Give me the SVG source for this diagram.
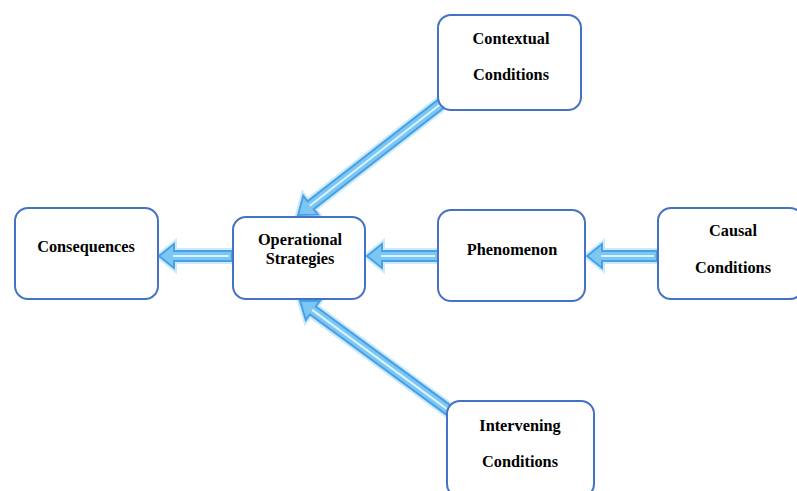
<svg xmlns="http://www.w3.org/2000/svg" width="797" height="491" viewBox="0 0 797 491">
<defs>
<style>
.box{fill:#fff;stroke:#4472C4;stroke-width:2}
.t{font-family:"Liberation Serif",serif;font-weight:bold;font-size:16.3px;fill:#000;text-anchor:middle}
.arr{fill:#7CC6F4;stroke:#4AA0E6;stroke-width:2;stroke-linejoin:miter}
.glow{fill:none;stroke:#A9DDFA;stroke-width:6;stroke-opacity:0.6}
.core{stroke:#D9F3FF;stroke-width:2;fill:none}
</style>
</defs>
<rect width="797" height="491" fill="#fff"/>
<g id="connectors">
<g transform="translate(159,256)">
<path class="glow" d="M0,0 L15,-12 L15,-5 L73,-5 L73,5 L15,5 L15,12 Z"/>
<path class="arr" d="M0,0 L15,-12 L15,-5 L73,-5 L73,5 L15,5 L15,12 Z"/>
<line class="core" x1="14" y1="0" x2="70" y2="0"/>
</g>
<g transform="translate(367,256)">
<path class="glow" d="M0,0 L15,-12 L15,-5 L71,-5 L71,5 L15,5 L15,12 Z"/>
<path class="arr" d="M0,0 L15,-12 L15,-5 L71,-5 L71,5 L15,5 L15,12 Z"/>
<line class="core" x1="14" y1="0" x2="68" y2="0"/>
</g>
<g transform="translate(587,256)">
<path class="glow" d="M0,0 L15,-12 L15,-5 L70,-5 L70,5 L15,5 L15,12 Z"/>
<path class="arr" d="M0,0 L15,-12 L15,-5 L70,-5 L70,5 L15,5 L15,12 Z"/>
<line class="core" x1="14" y1="0" x2="67" y2="0"/>
</g>
<g transform="translate(298,215) rotate(-37.9)">
<path class="glow" d="M0,0 L16,-12 L16,-5 L183,-5 L183,5 L16,5 L16,12 Z"/>
<path class="arr" d="M0,0 L16,-12 L16,-5 L183,-5 L183,5 L16,5 L16,12 Z"/>
<line class="core" x1="15" y1="0" x2="180" y2="0"/>
</g>
<g transform="translate(300,301) rotate(36.3)">
<path class="glow" d="M0,0 L16,-12 L16,-5 L186,-5 L186,5 L16,5 L16,12 Z"/>
<path class="arr" d="M0,0 L16,-12 L16,-5 L186,-5 L186,5 L16,5 L16,12 Z"/>
<line class="core" x1="15" y1="0" x2="183" y2="0"/>
</g>
</g>
<g id="consequences">
<rect class="box" x="15" y="208" width="143" height="91" rx="13"/>
<text class="t" x="86" y="252">Consequences</text>
</g>
<g id="operational">
<rect class="box" x="233" y="217" width="132" height="82" rx="13"/>
<text class="t" x="300" y="245">Operational</text>
<text class="t" x="300" y="264">Strategies</text>
</g>
<g id="phenomenon">
<rect class="box" x="438" y="210" width="147" height="91" rx="13"/>
<text class="t" x="512" y="255">Phenomenon</text>
</g>
<g id="causal">
<rect class="box" x="658" y="208" width="145" height="91" rx="13"/>
<text class="t" x="733" y="236">Causal</text>
<text class="t" x="733" y="273">Conditions</text>
</g>
<g id="contextual">
<rect class="box" x="438" y="15" width="143" height="95" rx="13"/>
<text class="t" x="511" y="44">Contextual</text>
<text class="t" x="511" y="80">Conditions</text>
</g>
<g id="intervening">
<rect class="box" x="447" y="401" width="147" height="96" rx="13"/>
<text class="t" x="520" y="431">Intervening</text>
<text class="t" x="520" y="467">Conditions</text>
</g>
</svg>
